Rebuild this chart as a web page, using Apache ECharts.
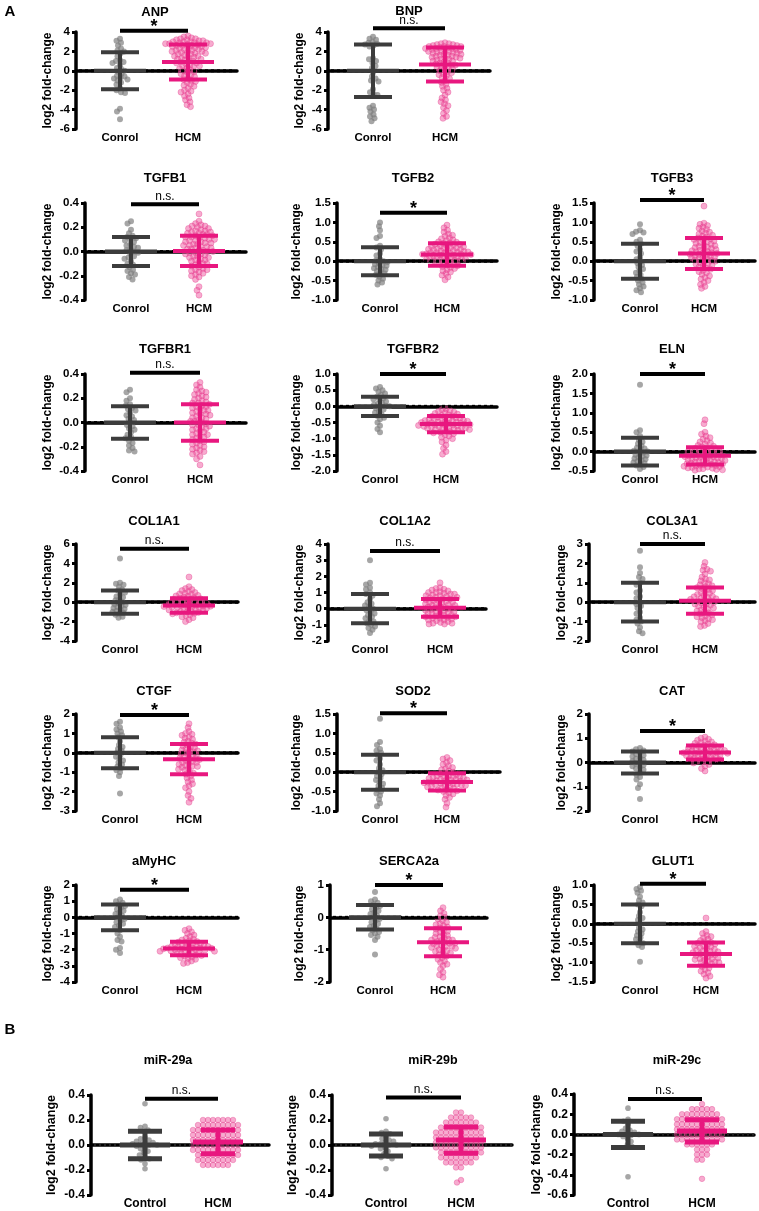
<!DOCTYPE html>
<html><head><meta charset="utf-8">
<script src="https://cdn.jsdelivr.net/npm/echarts@6/dist/echarts.min.js"></script>
<style>html,body{margin:0;padding:0;background:#fff}#c{width:759px;height:1211px}</style>
</head><body><div id="c"></div><script>
// ---------------- DATA ----------------
const geneNames = ['ANP','BNP','TGFB1','TGFB2','TGFB3','TGFBR1','TGFBR2','ELN','COL1A1','COL1A2','COL3A1','CTGF','SOD2','CAT','aMyHC','SERCA2a','GLUT1','miR-29a','miR-29b','miR-29c'];
const groupLabelsA = ['Conrol','HCM'];
const groupLabelsB = ['Control','HCM'];
const sigLabels = ['*','n.s.','n.s.','*','*','n.s.','*','*','n.s.','n.s.','n.s.','*','*','*','*','*','*','n.s.','n.s.','n.s.'];
const yMin  = [-6,-6,-0.4,-1,-1,-0.4,-2,-0.5,-4,-2,-2,-3,-1,-2,-4,-2,-1.5,-0.4,-0.4,-0.6];
const yMax  = [4,4,0.4,1.5,1.5,0.4,1,2,6,4,3,2,1.5,2,2,1,1,0.4,0.4,0.4];
const yStep = [2,2,0.2,0.5,0.5,0.2,0.5,0.5,2,1,1,1,0.5,1,1,1,0.5,0.2,0.2,0.2];
const yDecimals = [0,0,1,1,1,1,1,1,0,0,0,0,1,0,0,0,1,1,1,1];
const meanCtrl = [0,0,0,0,0,0,0,0,0,0,0,0,0,0,0,0,0,0,0,0];
const sdCtrl   = [1.9,2.7,0.12,0.36,0.45,0.135,0.3,0.36,1.2,0.9,1.0,0.8,0.45,0.45,0.8,0.38,0.5,0.11,0.088,0.13];
const meanHCM  = [0.9,0.65,0.005,0.17,0.2,0.0,-0.55,-0.11,-0.35,0.05,0.08,-0.33,-0.25,0.41,-1.93,-0.77,-0.78,0.025,0.04,0.034];
const sdHCM    = [1.8,1.75,0.125,0.29,0.4,0.15,0.25,0.22,0.75,0.55,0.68,0.78,0.22,0.29,0.42,0.43,0.3,0.095,0.105,0.11];
const sigBarY  = [4.13,4.38,0.39,1.25,1.58,0.41,1.0,2.0,5.5,3.57,3.0,1.95,1.52,1.3,1.7,1.0,1.03,0.37,0.38,0.35];

const ctrl_ANP = [3.3,3.1,2.9,2.6,2.3,2.1,2.0,1.8,1.5,1.1,1.0,0.9,0.8,0.6,0.3,0.2,0.0,-0.1,-0.3,-0.5,-0.6,-0.7,-0.8,-0.9,-1.0,-1.2,-1.4,-1.8,-2.0,-2.2,-2.3,-3.9,-4.2,-5.0];
const hcm_ANP = [3.6,3.5,3.4,3.3,3.3,3.2,3.2,3.1,3.1,3.0,3.0,3.0,2.9,2.9,2.9,2.8,2.8,2.8,2.7,2.7,2.6,2.6,2.6,2.5,2.5,2.4,2.4,2.3,2.3,2.2,2.2,2.1,2.1,2.0,2.0,1.9,1.9,1.8,1.8,1.7,1.7,1.6,1.5,1.5,1.4,1.4,1.3,1.2,1.2,1.1,1.0,1.0,0.9,0.8,0.8,0.7,0.6,0.5,0.5,0.4,0.3,0.2,0.1,0.0,-0.1,-0.2,-0.3,-0.4,-0.5,-0.6,-0.8,-0.9,-1.0,-1.1,-1.2,-1.4,-1.5,-1.6,-1.8,-2.0,-2.1,-2.2,-2.4,-2.6,-2.8,-3.0,-3.2,-3.5,-3.7];
const ctrl_BNP = [3.5,3.3,3.2,3.0,2.9,2.8,2.7,2.6,2.5,1.3,1.2,1.0,0.8,0.5,0.3,-0.2,-0.6,-0.8,-1.0,-1.1,-1.9,-2.2,-2.4,-2.5,-3.6,-3.8,-4.0,-4.2,-4.5,-4.7,-4.9,-5.2];
const hcm_BNP = [2.9,2.8,2.8,2.7,2.7,2.6,2.6,2.5,2.5,2.5,2.4,2.4,2.3,2.3,2.3,2.2,2.2,2.1,2.1,2.0,2.0,2.0,1.9,1.9,1.8,1.8,1.7,1.7,1.6,1.6,1.5,1.5,1.4,1.4,1.3,1.3,1.2,1.2,1.1,1.0,1.0,0.9,0.8,0.8,0.7,0.6,0.6,0.5,0.4,0.3,0.3,0.2,0.1,0.0,-0.1,-0.2,-0.3,-0.4,-0.5,-0.7,-0.8,-1.0,-1.2,-1.4,-1.6,-1.8,-2.0,-2.2,-2.5,-2.8,-3.0,-3.2,-3.4,-3.6,-3.8,-4.1,-4.4,-4.7,-4.9];
const ctrl_TGFB1 = [0.25,0.23,0.18,0.15,0.13,0.12,0.11,0.10,0.09,0.08,0.06,0.05,0.04,0.03,0.02,0.01,0.0,-0.01,-0.02,-0.04,-0.05,-0.06,-0.08,-0.10,-0.11,-0.13,-0.15,-0.16,-0.18,-0.19,-0.21,-0.23];
const hcm_TGFB1 = [0.31,0.25,0.23,0.22,0.21,0.21,0.20,0.19,0.19,0.18,0.17,0.17,0.16,0.16,0.15,0.15,0.14,0.14,0.13,0.13,0.12,0.12,0.11,0.11,0.10,0.10,0.09,0.09,0.08,0.08,0.07,0.07,0.06,0.06,0.05,0.05,0.04,0.04,0.03,0.03,0.02,0.02,0.01,0.01,0.0,0.0,-0.01,-0.01,-0.02,-0.02,-0.03,-0.04,-0.04,-0.05,-0.05,-0.06,-0.07,-0.07,-0.08,-0.09,-0.10,-0.10,-0.11,-0.12,-0.13,-0.14,-0.15,-0.15,-0.16,-0.17,-0.18,-0.19,-0.20,-0.21,-0.23,-0.29,-0.32,-0.36];
const ctrl_TGFB2 = [1.0,0.9,0.8,0.65,0.6,0.4,0.35,0.3,0.2,0.15,0.05,0.02,0.0,-0.02,-0.05,-0.08,-0.1,-0.12,-0.15,-0.18,-0.2,-0.22,-0.25,-0.3,-0.32,-0.35,-0.4,-0.45,-0.5,-0.55,-0.6];
const hcm_TGFB2 = [0.93,0.86,0.8,0.75,0.7,0.67,0.64,0.6,0.58,0.55,0.53,0.5,0.49,0.47,0.46,0.44,0.43,0.42,0.4,0.39,0.38,0.37,0.35,0.34,0.33,0.32,0.31,0.3,0.29,0.28,0.27,0.26,0.25,0.24,0.23,0.22,0.22,0.21,0.2,0.19,0.18,0.18,0.17,0.16,0.15,0.14,0.13,0.12,0.11,0.1,0.09,0.08,0.07,0.06,0.05,0.04,0.03,0.02,0.01,0.0,-0.02,-0.04,-0.06,-0.08,-0.1,-0.12,-0.14,-0.16,-0.19,-0.22,-0.25,-0.28,-0.32,-0.36,-0.41,-0.48];
const ctrl_TGFB3 = [0.95,0.8,0.76,0.74,0.7,0.55,0.5,0.45,0.4,0.3,0.25,0.2,0.1,0.05,0.0,-0.05,-0.1,-0.15,-0.2,-0.25,-0.3,-0.35,-0.4,-0.45,-0.5,-0.55,-0.6,-0.65,-0.7,-0.75,-0.8];
const hcm_TGFB3 = [1.42,0.98,0.95,0.92,0.88,0.85,0.82,0.78,0.75,0.72,0.7,0.67,0.64,0.62,0.6,0.58,0.56,0.54,0.52,0.5,0.48,0.46,0.44,0.42,0.4,0.38,0.36,0.35,0.33,0.31,0.3,0.28,0.27,0.25,0.24,0.22,0.21,0.2,0.18,0.17,0.15,0.14,0.12,0.11,0.09,0.08,0.06,0.05,0.03,0.02,0.0,-0.02,-0.04,-0.06,-0.08,-0.1,-0.12,-0.15,-0.18,-0.21,-0.24,-0.27,-0.3,-0.34,-0.38,-0.42,-0.46,-0.5,-0.55,-0.6,-0.65,-0.7];
const ctrl_TGFBR1 = [0.27,0.25,0.2,0.18,0.15,0.14,0.12,0.11,0.1,0.08,0.06,0.05,0.03,0.02,0.0,-0.02,-0.03,-0.05,-0.06,-0.08,-0.1,-0.12,-0.13,-0.15,-0.17,-0.19,-0.21,-0.23,-0.24];
const hcm_TGFBR1 = [0.33,0.31,0.29,0.27,0.26,0.25,0.24,0.23,0.22,0.21,0.2,0.19,0.18,0.17,0.16,0.16,0.15,0.14,0.13,0.13,0.12,0.11,0.1,0.1,0.09,0.08,0.07,0.07,0.06,0.05,0.04,0.04,0.03,0.02,0.01,0.01,0.0,-0.01,-0.02,-0.02,-0.03,-0.04,-0.05,-0.05,-0.06,-0.07,-0.08,-0.09,-0.1,-0.1,-0.11,-0.12,-0.13,-0.14,-0.15,-0.16,-0.17,-0.18,-0.19,-0.2,-0.21,-0.22,-0.23,-0.24,-0.25,-0.26,-0.28,-0.3,-0.35];
const ctrl_TGFBR2 = [0.6,0.55,0.5,0.45,0.4,0.35,0.3,0.25,0.22,0.2,0.15,0.1,0.08,0.05,0.02,0.0,-0.03,-0.06,-0.1,-0.15,-0.2,-0.25,-0.3,-0.35,-0.4,-0.5,-0.6,-0.7,-0.8];
const hcm_TGFBR2 = [-0.08,-0.1,-0.13,-0.16,-0.18,-0.2,-0.22,-0.24,-0.26,-0.28,-0.3,-0.31,-0.33,-0.34,-0.36,-0.37,-0.39,-0.4,-0.41,-0.42,-0.43,-0.44,-0.45,-0.46,-0.47,-0.48,-0.49,-0.5,-0.51,-0.52,-0.53,-0.54,-0.55,-0.55,-0.56,-0.57,-0.58,-0.59,-0.6,-0.61,-0.62,-0.63,-0.64,-0.65,-0.66,-0.67,-0.68,-0.69,-0.7,-0.71,-0.72,-0.74,-0.76,-0.78,-0.8,-0.82,-0.85,-0.88,-0.92,-0.96,-1.0,-1.05,-1.1,-1.2,-1.3,-1.4,-1.48];
const ctrl_ELN = [1.72,0.55,0.5,0.4,0.3,0.25,0.2,0.15,0.1,0.08,0.05,0.02,0.0,-0.02,-0.05,-0.08,-0.1,-0.12,-0.15,-0.18,-0.2,-0.22,-0.25,-0.28,-0.3,-0.33,-0.36,-0.4,-0.45];
const hcm_ELN = [0.82,0.72,0.5,0.45,0.4,0.36,0.32,0.28,0.25,0.22,0.19,0.16,0.14,0.12,0.1,0.08,0.07,0.05,0.04,0.02,0.01,0.0,-0.01,-0.03,-0.04,-0.05,-0.06,-0.07,-0.08,-0.09,-0.1,-0.11,-0.12,-0.13,-0.14,-0.15,-0.16,-0.17,-0.18,-0.19,-0.2,-0.21,-0.22,-0.23,-0.24,-0.25,-0.26,-0.27,-0.28,-0.29,-0.3,-0.31,-0.32,-0.33,-0.34,-0.35,-0.36,-0.37,-0.38,-0.39,-0.4,-0.41,-0.42,-0.43,-0.44,-0.45,-0.46,-0.47,-0.48];
const ctrl_COL1A1 = [4.5,2.0,1.9,1.8,1.6,1.3,1.2,1.0,0.8,0.6,0.5,0.3,0.2,0.0,-0.1,-0.2,-0.3,-0.4,-0.5,-0.6,-0.7,-0.8,-0.9,-1.0,-1.1,-1.2,-1.3,-1.5,-1.6];
const hcm_COL1A1 = [2.6,1.6,1.4,1.3,1.2,1.1,1.0,0.9,0.85,0.8,0.7,0.65,0.6,0.5,0.45,0.4,0.35,0.3,0.25,0.2,0.15,0.1,0.05,0.0,-0.05,-0.1,-0.12,-0.15,-0.2,-0.22,-0.25,-0.3,-0.32,-0.35,-0.4,-0.42,-0.45,-0.5,-0.52,-0.55,-0.6,-0.62,-0.65,-0.7,-0.75,-0.8,-0.85,-0.9,-0.95,-1.0,-1.05,-1.1,-1.15,-1.2,-1.3,-1.4,-1.5,-1.6,-1.8,-2.0];
const ctrl_COL1A2 = [3.0,1.6,1.5,1.3,1.2,1.0,0.9,0.8,0.6,0.4,0.3,0.2,0.1,0.0,-0.1,-0.2,-0.3,-0.4,-0.5,-0.6,-0.7,-0.8,-0.9,-1.0,-1.1,-1.2,-1.3,-1.5];
const hcm_COL1A2 = [1.6,1.3,1.25,1.2,1.15,1.1,1.05,1.0,1.0,0.95,0.9,0.9,0.85,0.8,0.8,0.75,0.7,0.7,0.65,0.6,0.6,0.55,0.5,0.5,0.45,0.4,0.4,0.35,0.3,0.3,0.25,0.2,0.2,0.15,0.1,0.1,0.05,0.0,0.0,-0.05,-0.1,-0.1,-0.15,-0.2,-0.2,-0.25,-0.3,-0.3,-0.35,-0.4,-0.4,-0.45,-0.5,-0.5,-0.55,-0.6,-0.6,-0.65,-0.7,-0.7,-0.75,-0.8,-0.85,-0.9,-0.9,-0.95,-0.95];
const ctrl_COL3A1 = [2.65,1.8,1.5,1.3,1.2,1.0,0.9,0.6,0.5,0.3,0.2,0.0,-0.1,-0.2,-0.3,-0.5,-0.6,-0.8,-0.9,-1.0,-1.1,-1.3,-1.5,-1.6];
const hcm_COL3A1 = [2.05,1.85,1.7,1.65,1.6,1.45,1.3,1.2,1.15,1.1,1.0,0.95,0.9,0.85,0.8,0.75,0.7,0.65,0.6,0.55,0.5,0.45,0.4,0.35,0.3,0.28,0.25,0.2,0.18,0.15,0.1,0.08,0.05,0.0,-0.05,-0.08,-0.1,-0.15,-0.2,-0.25,-0.3,-0.35,-0.4,-0.45,-0.5,-0.55,-0.6,-0.65,-0.7,-0.75,-0.8,-0.85,-0.9,-0.95,-1.0,-1.1,-1.2,-1.25];
const ctrl_CTGF = [1.6,1.5,1.3,1.2,1.1,1.0,0.9,0.8,0.6,0.4,0.3,0.2,0.1,0.0,-0.1,-0.2,-0.3,-0.4,-0.5,-0.6,-0.7,-0.8,-0.9,-1.0,-1.2,-2.1];
const hcm_CTGF = [1.5,1.3,1.1,1.0,0.95,0.9,0.8,0.75,0.7,0.6,0.55,0.5,0.45,0.4,0.35,0.3,0.25,0.2,0.15,0.1,0.05,0.0,-0.05,-0.1,-0.15,-0.2,-0.25,-0.3,-0.35,-0.4,-0.45,-0.5,-0.55,-0.6,-0.65,-0.7,-0.75,-0.8,-0.85,-0.9,-1.0,-1.05,-1.1,-1.2,-1.3,-1.4,-1.5,-1.6,-1.7,-1.8,-2.0,-2.2,-2.35,-2.55,-0.3,-0.5,-0.7,-0.1,0.1];
const ctrl_SOD2 = [1.38,0.78,0.7,0.6,0.55,0.5,0.45,0.35,0.3,0.2,0.1,0.05,0.0,-0.05,-0.1,-0.15,-0.2,-0.25,-0.3,-0.35,-0.4,-0.45,-0.5,-0.55,-0.6,-0.7,-0.8,-0.88];
const hcm_SOD2 = [0.38,0.34,0.3,0.25,0.2,0.16,0.12,0.09,0.06,0.03,0.0,-0.02,-0.04,-0.06,-0.08,-0.1,-0.11,-0.12,-0.13,-0.14,-0.15,-0.16,-0.17,-0.18,-0.19,-0.2,-0.21,-0.22,-0.23,-0.24,-0.25,-0.26,-0.27,-0.28,-0.29,-0.3,-0.31,-0.32,-0.33,-0.34,-0.35,-0.36,-0.37,-0.38,-0.4,-0.42,-0.44,-0.46,-0.48,-0.5,-0.53,-0.56,-0.6,-0.65,-0.7,-0.8,-0.9];
const ctrl_CAT = [0.6,0.55,0.5,0.45,0.4,0.35,0.3,0.25,0.2,0.15,0.1,0.05,0.0,-0.05,-0.1,-0.15,-0.2,-0.25,-0.3,-0.4,-0.5,-0.6,-0.7,-0.9,-1.05,-1.5];
const hcm_CAT = [1.05,1.0,0.96,0.92,0.88,0.85,0.82,0.79,0.76,0.73,0.7,0.68,0.66,0.64,0.62,0.6,0.58,0.56,0.55,0.53,0.51,0.5,0.48,0.47,0.45,0.44,0.42,0.41,0.4,0.38,0.37,0.35,0.34,0.32,0.31,0.29,0.28,0.26,0.24,0.22,0.2,0.18,0.16,0.14,0.12,0.1,0.08,0.05,0.02,-0.02,-0.08,-0.15,-0.25,-0.35];
const ctrl_aMyHC = [1.1,1.0,0.9,0.8,0.7,0.6,0.5,0.4,0.3,0.2,0.1,0.0,-0.1,-0.2,-0.3,-0.4,-0.5,-0.6,-0.8,-1.0,-1.2,-1.4,-1.5,-1.9,-2.0,-2.2];
const hcm_aMyHC = [-0.7,-0.8,-0.9,-1.0,-1.1,-1.2,-1.3,-1.35,-1.4,-1.45,-1.5,-1.53,-1.56,-1.6,-1.63,-1.66,-1.7,-1.72,-1.75,-1.78,-1.8,-1.83,-1.86,-1.88,-1.9,-1.92,-1.95,-1.97,-2.0,-2.02,-2.05,-2.08,-2.1,-2.13,-2.16,-2.2,-2.23,-2.26,-2.3,-2.33,-2.36,-2.4,-2.45,-2.5,-2.55,-2.6,-2.7,-2.8,-2.85,-1.9,-2.0,-2.1,-1.8];
const ctrl_SERCA2a = [0.78,0.55,0.5,0.45,0.4,0.35,0.3,0.25,0.2,0.15,0.1,0.05,0.0,-0.05,-0.1,-0.15,-0.2,-0.25,-0.3,-0.35,-0.4,-0.45,-0.5,-0.55,-0.6,-0.7,-1.15];
const hcm_SERCA2a = [0.3,0.2,0.12,0.05,0.0,-0.05,-0.1,-0.15,-0.2,-0.23,-0.26,-0.3,-0.33,-0.36,-0.4,-0.43,-0.46,-0.5,-0.53,-0.56,-0.6,-0.62,-0.65,-0.68,-0.7,-0.72,-0.75,-0.78,-0.8,-0.82,-0.85,-0.88,-0.9,-0.93,-0.96,-1.0,-1.03,-1.06,-1.1,-1.13,-1.16,-1.2,-1.25,-1.3,-1.35,-1.4,-1.45,-1.5,-1.6,-1.7,-1.78,-1.85,-0.7,-0.8,-0.9,-1.0];
const ctrl_GLUT1 = [0.95,0.9,0.85,0.8,0.7,0.6,0.55,0.5,0.45,0.3,0.2,0.15,0.1,0.0,-0.1,-0.15,-0.2,-0.25,-0.3,-0.35,-0.4,-0.45,-0.5,-0.55,-0.6,-0.98];
const hcm_GLUT1 = [0.15,-0.2,-0.25,-0.3,-0.33,-0.36,-0.4,-0.43,-0.46,-0.48,-0.5,-0.52,-0.54,-0.56,-0.58,-0.6,-0.62,-0.64,-0.66,-0.68,-0.7,-0.72,-0.74,-0.76,-0.78,-0.8,-0.82,-0.84,-0.86,-0.88,-0.9,-0.92,-0.94,-0.96,-0.98,-1.0,-1.03,-1.06,-1.1,-1.14,-1.18,-1.22,-1.26,-1.3,-1.35,-1.4,-0.7,-0.8,-0.9,-1.0];
const ctrl_miR29a = [0.33,0.15,0.14,0.12,0.11,0.06,0.05,0.04,0.03,0.02,0.02,0.01,0.01,0.0,0.0,-0.01,-0.02,-0.03,-0.05,-0.06,-0.08,-0.1,-0.11,-0.12,-0.15,-0.19];
const hcm_miR29a = [0.2,0.2,0.2,0.2,0.2,0.2,0.2,0.16,0.16,0.16,0.16,0.16,0.16,0.16,0.16,0.16,0.12,0.12,0.12,0.12,0.12,0.12,0.12,0.12,0.12,0.12,0.08,0.08,0.08,0.08,0.08,0.08,0.08,0.08,0.08,0.08,0.04,0.04,0.04,0.04,0.04,0.04,0.04,0.04,0.04,0.04,0.0,0.0,0.0,0.0,0.0,0.0,0.0,0.0,0.0,0.0,-0.04,-0.04,-0.04,-0.04,-0.04,-0.04,-0.04,-0.04,-0.04,-0.04,-0.08,-0.08,-0.08,-0.08,-0.08,-0.08,-0.08,-0.08,-0.08,-0.12,-0.12,-0.12,-0.12,-0.12,-0.12,-0.12,-0.12,-0.16,-0.16,-0.16,-0.16,-0.16,-0.16];
const ctrl_miR29b = [0.21,0.11,0.1,0.09,0.07,0.05,0.04,0.03,0.02,0.01,0.01,0.0,0.0,-0.01,-0.02,-0.03,-0.05,-0.07,-0.09,-0.1,-0.11,-0.19];
const hcm_miR29b = [0.26,0.26,0.22,0.22,0.22,0.22,0.22,0.18,0.18,0.18,0.18,0.18,0.18,0.18,0.14,0.14,0.14,0.14,0.14,0.14,0.14,0.14,0.14,0.1,0.1,0.1,0.1,0.1,0.1,0.1,0.1,0.1,0.1,0.06,0.06,0.06,0.06,0.06,0.06,0.06,0.06,0.06,0.06,0.02,0.02,0.02,0.02,0.02,0.02,0.02,0.02,0.02,0.02,-0.02,-0.02,-0.02,-0.02,-0.02,-0.02,-0.02,-0.02,-0.02,-0.02,-0.06,-0.06,-0.06,-0.06,-0.06,-0.06,-0.06,-0.06,-0.06,-0.1,-0.1,-0.1,-0.1,-0.1,-0.1,-0.1,-0.1,-0.14,-0.14,-0.14,-0.14,-0.14,-0.14,-0.18,-0.18,-0.28,-0.3];
const ctrl_miR29c = [0.26,0.15,0.13,0.1,0.06,0.04,0.03,0.02,0.01,0.0,0.0,-0.01,-0.02,-0.04,-0.07,-0.1,-0.12,-0.42];
const hcm_miR29c = [0.3,0.25,0.25,0.25,0.25,0.25,0.2,0.2,0.2,0.2,0.2,0.2,0.2,0.2,0.15,0.15,0.15,0.15,0.15,0.15,0.15,0.15,0.15,0.15,0.1,0.1,0.1,0.1,0.1,0.1,0.1,0.1,0.1,0.1,0.05,0.05,0.05,0.05,0.05,0.05,0.05,0.05,0.05,0.05,0.0,0.0,0.0,0.0,0.0,0.0,0.0,0.0,0.0,0.0,-0.05,-0.05,-0.05,-0.05,-0.05,-0.05,-0.05,-0.05,-0.05,-0.05,-0.1,-0.1,-0.1,-0.1,-0.1,-0.1,-0.15,-0.15,-0.15,-0.2,-0.2,-0.2,-0.25,-0.25,-0.44];

const controlValues = [ctrl_ANP,ctrl_BNP,ctrl_TGFB1,ctrl_TGFB2,ctrl_TGFB3,ctrl_TGFBR1,ctrl_TGFBR2,ctrl_ELN,ctrl_COL1A1,ctrl_COL1A2,ctrl_COL3A1,ctrl_CTGF,ctrl_SOD2,ctrl_CAT,ctrl_aMyHC,ctrl_SERCA2a,ctrl_GLUT1,ctrl_miR29a,ctrl_miR29b,ctrl_miR29c];
const hcmValues = [hcm_ANP,hcm_BNP,hcm_TGFB1,hcm_TGFB2,hcm_TGFB3,hcm_TGFBR1,hcm_TGFBR2,hcm_ELN,hcm_COL1A1,hcm_COL1A2,hcm_COL3A1,hcm_CTGF,hcm_SOD2,hcm_CAT,hcm_aMyHC,hcm_SERCA2a,hcm_GLUT1,hcm_miR29a,hcm_miR29b,hcm_miR29c];

// ---------------- LAYOUT (pixels) ----------------
const panelLeft = [76,328,85,337,594,85,337,594,76,328,589,76,337,589,76,330,594,91,332,574];
const panelTop  = [32,32,203,203,203,374,374,374,544,544,544,714,714,714,885,885,885,1095,1095,1094];
const panelW    = [161,162,161,160,161,161,160,161,162,158,166,162,163,166,162,157,161,178,180,180];
const panelH    = [97,97,97,97,97,97,97,97,97,97,97,97,97,97,97,97,97,100,100,101];
const ctrlPx    = [120,373,131,380,640,130,380,640,120,370,640,120,380,640,120,375,640,145,386,628];
const hcmPx     = [188,445,199,447,704,200,446,705,189,440,705,189,447,705,189,443,706,218,461,702];
const nameX     = [48,300,48,297,557,48,297,557,48,300,562,48,297,562,48,300,557,52,293,539];
const titleX    = [155,409,165,413,672,165,413,672,154,405,672,154,413,672,154,409,673,168,433,677];
const titleY    = [12,11,178,178,178,349,349,349,521,521,521,691,691,691,861,861,861,1061,1061,1061];

const FONT = '"Liberation Sans", Arial, sans-serif';
const CTRL_DOT = 'rgba(125,125,125,0.85)';
const HCM_DOT = 'rgba(238,80,155,0.6)';
const HCM_EDGE = 'rgba(225,60,140,0.55)';
const CTRL_BAR = '#3c3c3c';
const HCM_BAR = '#e8177f';

function swarm(values, i, centerFrac, d) {
  const H = panelH[i], W = panelW[i];
  const pts = values.map(v => ({v, py: (yMax[i] - v) / (yMax[i] - yMin[i]) * H}));
  pts.sort((a, b) => a.py - b.py);
  const placed = [], out = [];
  for (const p of pts) {
    let best = 0;
    for (let k = 0; k < 600; k++) {
      const off = (k % 2 === 0 ? 1 : -1) * Math.ceil(k / 2) * 0.5;
      let ok = true;
      for (const q of placed) {
        const dy = q.py - p.py;
        if (Math.abs(dy) < d) {
          const dx = q.px - off;
          if (dx * dx + dy * dy < d * d) { ok = false; break; }
        }
      }
      if (ok) { best = off; break; }
    }
    placed.push({py: p.py, px: best});
    out.push([centerFrac + best / W, p.v]);
  }
  return out;
}

const grid = [], xAxis = [], yAxis = [], series = [], graphic = [];
for (let i = 0; i < geneNames.length; i++) {
  const isB = i >= 17;
  const cF = (ctrlPx[i] - panelLeft[i]) / panelW[i];
  const hF = (hcmPx[i] - panelLeft[i]) / panelW[i];
  const labels = isB ? groupLabelsB : groupLabelsA;
  grid.push({left: panelLeft[i], top: panelTop[i], width: panelW[i], height: panelH[i], containLabel: false});
  xAxis.push({
    type: 'value', gridIndex: i, min: 0, max: 1,
    axisLine: {show: true, lineStyle: {color: '#000', width: 3.5}},
    axisTick: {show: false}, splitLine: {show: false},
    axisLabel: {customValues: [cF, hF], formatter: v => (v < 0.5 ? labels[0] : labels[1]),
      color: '#000', fontWeight: 'bold', fontSize: isB ? 12 : 11.5, fontFamily: FONT, margin: 3}
  });
  const dec = yDecimals[i];
  yAxis.push({
    type: 'value', gridIndex: i, min: yMin[i], max: yMax[i], interval: yStep[i],
    axisLine: {show: true, lineStyle: {color: '#000', width: 3.5}},
    axisTick: {show: true, length: 4, lineStyle: {color: '#000', width: 3}},
    splitLine: {show: false},
    axisLabel: {formatter: v => { const r = Math.round(v * 10) / 10; return dec ? r.toFixed(1) : String(Math.round(r)); },
      color: '#000', fontWeight: 'bold', fontSize: isB ? 12 : 11.5, fontFamily: FONT, margin: 6},
    name: 'log2 fold-change', nameLocation: 'middle', nameGap: panelLeft[i] - nameX[i] - 6,
    nameTextStyle: {color: '#000', fontWeight: 'bold', fontSize: isB ? 12.5 : 12, fontFamily: FONT}
  });
  const ds = isB ? 4.6 : 4.0;
  const sym = isB ? 5.6 : 6.0;
  series.push({type: 'scatter', xAxisIndex: i, yAxisIndex: i, symbolSize: sym, z: 2, silent: true,
    itemStyle: {color: CTRL_DOT}, data: swarm(controlValues[i], i, cF, ds)});
  series.push({type: 'scatter', xAxisIndex: i, yAxisIndex: i, symbolSize: sym, z: 2, silent: true,
    itemStyle: {color: HCM_DOT, borderColor: HCM_EDGE, borderWidth: 0.8}, data: swarm(hcmValues[i], i, hF, ds)});
  // dotted zero reference line
  const dotW = isB ? 2 : 3, dotGap = 3;
  series.push({
    type: 'custom', xAxisIndex: i, yAxisIndex: i, z: 3, silent: true,
    data: [[0, 1, 0]],
    renderItem: (params, api) => {
      const a = api.coord([api.value(0), api.value(2)]);
      const b = api.coord([api.value(1), api.value(2)]);
      const kids = [];
      for (let x = a[0] + 3; x + dotW <= b[0] + 0.5; x += dotW + dotGap) {
        kids.push({type: 'rect', shape: {x: x, y: a[1] - dotW / 2, width: dotW, height: dotW},
          style: {fill: isB ? '#222' : '#000'}});
      }
      return {type: 'group', children: kids};
    }
  });
  const mk = (color, lw, halfMean, halfCap) => ({
    type: 'custom', xAxisIndex: i, yAxisIndex: i, z: 5, silent: true,
    renderItem: (params, api) => {
      const x = api.value(0), m = api.value(1), s = api.value(2);
      const c = api.coord([x, m]), t = api.coord([x, m + s]), b = api.coord([x, m - s]);
      const st = {stroke: color, lineWidth: lw};
      return {type: 'group', children: [
        {type: 'line', shape: {x1: c[0], y1: t[1], x2: c[0], y2: b[1]}, style: st},
        {type: 'line', shape: {x1: c[0] - halfMean, y1: c[1], x2: c[0] + halfMean, y2: c[1]}, style: st},
        {type: 'line', shape: {x1: c[0] - halfCap, y1: t[1], x2: c[0] + halfCap, y2: t[1]}, style: st},
        {type: 'line', shape: {x1: c[0] - halfCap, y1: b[1], x2: c[0] + halfCap, y2: b[1]}, style: st}
      ]};
    }
  });
  const eC = mk(CTRL_BAR, isB ? 5 : 4, isB ? 25 : 26, isB ? 17 : 19);
  eC.data = [[cF, meanCtrl[i], sdCtrl[i]]];
  const eH = mk(HCM_BAR, isB ? 5 : 4, isB ? 25 : 26, isB ? 17 : 19);
  eH.data = [[hF, meanHCM[i], sdHCM[i]]];
  series.push(eC, eH);
  const lab = sigLabels[i];
  series.push({
    type: 'custom', xAxisIndex: i, yAxisIndex: i, z: 6, silent: true,
    data: [[cF, hF, sigBarY[i]]],
    renderItem: (params, api) => {
      const p1 = api.coord([api.value(0), api.value(2)]);
      const p2 = api.coord([api.value(1), api.value(2)]);
      const star = lab === '*';
      return {type: 'group', children: [
        {type: 'line', shape: {x1: p1[0], y1: p1[1], x2: p2[0], y2: p2[1]}, style: {stroke: '#000', lineWidth: 4}},
        {type: 'text', style: {text: lab, x: (p1[0] + p2[0]) / 2, y: p1[1] - (star ? 4 : 8),
          align: 'center', verticalAlign: 'middle', fill: '#000',
          font: (star ? 'bold 18px ' : '12px ') + FONT}}
      ]};
    }
  });
  graphic.push({type: 'text', x: titleX[i], y: titleY[i],
    style: {text: geneNames[i], align: 'center', verticalAlign: 'middle', fill: '#000',
      font: 'bold ' + (isB ? 12.5 : 13) + 'px ' + FONT}});
}
graphic.push({type: 'text', x: 10, y: 12, style: {text: 'A', align: 'center', verticalAlign: 'middle', fill: '#000', font: 'bold 15px ' + FONT}});
graphic.push({type: 'text', x: 10, y: 1030, style: {text: 'B', align: 'center', verticalAlign: 'middle', fill: '#000', font: 'bold 15px ' + FONT}});

const chart = echarts.init(document.getElementById('c'), null, {renderer: 'canvas'});
chart.setOption({animation: false, backgroundColor: '#fff', textStyle: {fontFamily: FONT},
  grid, xAxis, yAxis, series, graphic});
</script></body></html>
